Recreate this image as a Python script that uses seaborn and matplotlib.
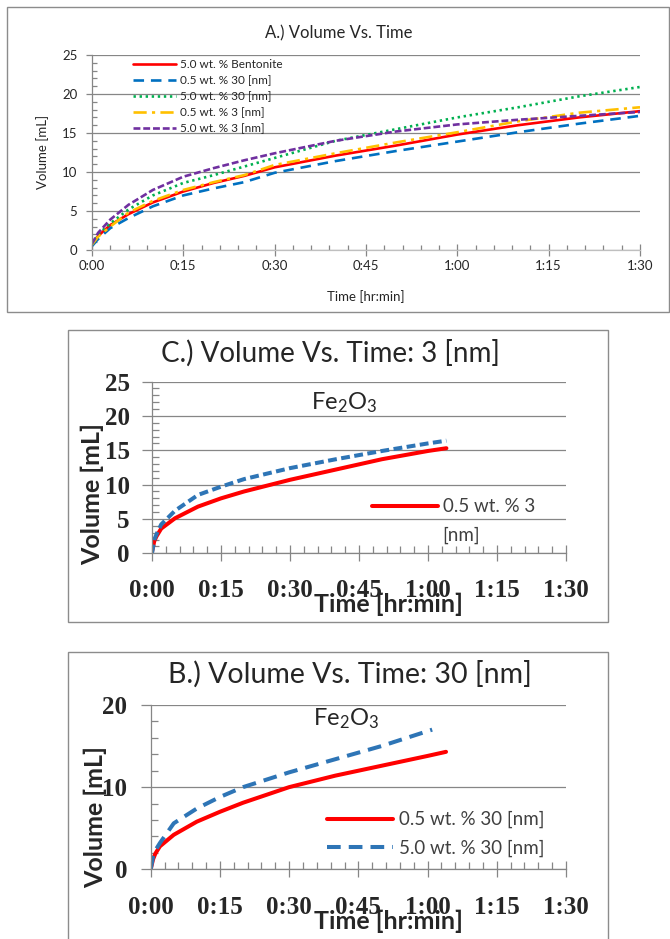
import matplotlib
matplotlib.use("Agg")
import matplotlib.pyplot as plt
import seaborn as sns
import numpy as np
from matplotlib.patches import Rectangle
from matplotlib.ticker import MultipleLocator

# ---------------- data ----------------
tick_minutes = [0, 15, 30, 45, 60, 75, 90]
tick_labels = ["0:00", "0:15", "0:30", "0:45", "1:00", "1:15", "1:30"]

# Panel A (minutes, mL)
time_a = [0, 1, 3, 6, 10, 15, 20, 25, 30, 40, 50, 60, 70, 80, 90]
a_bentonite_50 = [0.7, 1.8, 3.2, 4.6, 6.1, 7.5, 8.6, 9.5, 10.6, 12.1, 13.4, 14.8, 16.0, 17.0, 17.8]
a_30nm_05 = [0.5, 1.4, 2.8, 4.1, 5.6, 7.0, 7.9, 8.7, 9.9, 11.4, 12.7, 13.9, 15.1, 16.2, 17.2]
a_30nm_50 = [0.7, 2.0, 3.4, 5.2, 7.0, 8.6, 9.6, 10.7, 11.8, 14.0, 15.5, 17.0, 18.3, 19.7, 20.9]
a_3nm_05 = [0.7, 1.7, 3.0, 4.8, 6.3, 7.7, 8.7, 9.6, 10.9, 12.4, 13.8, 15.1, 16.5, 17.6, 18.3]
a_3nm_50 = [0.8, 2.2, 3.9, 5.8, 7.7, 9.4, 10.5, 11.5, 12.4, 14.0, 15.2, 16.1, 16.7, 17.2, 17.7]
a_labels = ["5.0 wt. % Bentonite", "0.5 wt. % 30 [nm]", "5.0 wt. % 30 [nm]",
            "0.5 wt. % 3 [nm]", "5.0 wt. % 3 [nm]"]

# Panel C (3 nm)
time_c = [0, 0.5, 1, 2, 5, 10, 15, 20, 30, 40, 50, 60, 64]
c_3nm_05 = [0.2, 1.8, 2.5, 3.6, 5.1, 6.8, 8.0, 9.0, 10.7, 12.2, 13.7, 14.9, 15.3]
c_3nm_50 = [0.0, 2.0, 2.8, 4.2, 6.2, 8.5, 9.7, 10.8, 12.4, 13.7, 14.9, 16.0, 16.4]
c_label = "0.5 wt. % 3"

# Panel B (30 nm)
time_b_05 = [0, 0.5, 1, 2, 5, 10, 15, 20, 30, 40, 50, 60, 64]
b_30nm_05 = [0.0, 1.2, 1.9, 2.8, 4.2, 5.8, 7.0, 8.1, 10.0, 11.4, 12.6, 13.8, 14.3]
time_b_50 = [0, 0.5, 1, 2, 5, 10, 15, 20, 30, 40, 50, 61]
b_30nm_50 = [0.0, 1.5, 2.3, 3.2, 5.6, 7.4, 8.8, 10.0, 11.8, 13.4, 15.0, 17.0]
b_labels = ["0.5 wt. % 30 [nm]", "5.0 wt. % 30 [nm]"]

# ---------------- style ----------------
sns.set_theme(style="white")
plt.rcParams["font.family"] = ["Lato", "DejaVu Sans"]
plt.rcParams["mathtext.default"] = "regular"

W, H = 670, 939
fig = plt.figure(figsize=(W / 100, H / 100), dpi=100)
fig.patch.set_facecolor("white")

GRID = "#868686"
TXT = "#262626"
RED = "#FF0000"


def px_axes(l, t, r, b):
    return fig.add_axes([l / W, 1 - b / H, (r - l) / W, (b - t) / H])


def border(l, t, r, b):
    fig.add_artist(Rectangle((l / W, 1 - b / H), (r - l) / W, (b - t) / H,
                             transform=fig.transFigure, fill=False,
                             ec="#8C8C8C", lw=1.0))


def ftext(x, y, s, **kw):
    fig.text(x / W, 1 - y / H, s, **kw)


def style_axes(ax, ymax, ymajor, yminor, tkw, xpad, ypad, xmaj, ymaj, mlen, bottom_col):
    ax.set_xlim(0, 90)
    ax.set_ylim(0, ymax)
    ax.set_xticks(tick_minutes, tick_labels, **tkw)
    yt = list(range(0, ymax + 1, ymajor))
    ax.set_yticks(yt, [str(v) for v in yt], **tkw)
    ax.xaxis.set_minor_locator(MultipleLocator(3))
    ax.yaxis.set_minor_locator(MultipleLocator(yminor))
    ax.grid(False)
    ax.yaxis.grid(True, which="major", color=GRID, lw=0.9)
    ax.set_axisbelow(True)
    for s in ["top", "right"]:
        ax.spines[s].set_visible(False)
    ax.spines["left"].set_color(GRID)
    ax.spines["bottom"].set_color(bottom_col)
    ax.spines["left"].set_linewidth(0.9)
    ax.spines["bottom"].set_linewidth(0.9)
    ax.tick_params(axis="both", which="both", bottom=True, left=True, top=False, right=False)
    ax.tick_params(axis="x", which="major", direction="inout", length=xmaj,
                   width=0.9, color=GRID, pad=xpad, labelcolor=TXT)
    ax.tick_params(axis="x", which="minor", direction="in", length=mlen,
                   width=0.9, color=GRID)
    ax.tick_params(axis="y", which="major", direction="out", length=ymaj,
                   width=0.9, color=GRID, pad=ypad, labelcolor=TXT)
    ax.tick_params(axis="y", which="minor", direction="in", length=mlen,
                   width=0.9, color=GRID)
    ax.set_facecolor("white")


def place_labels(ax, xl, yl, xpos, ypos, kw):
    ax.set_xlabel(xl, **kw)
    ax.set_ylabel(yl, **kw)
    ax.xaxis.set_label_coords(xpos[0] / W, 1 - xpos[1] / H, transform=fig.transFigure)
    ax.yaxis.set_label_coords(ypos[0] / W, 1 - ypos[1] / H, transform=fig.transFigure)
    ax.xaxis.label.set_va("center")
    ax.yaxis.label.set_va("center")


# ================= Panel A =================
border(7, 7, 669, 312)
axA = px_axes(92, 55, 640, 250)
a_series = [a_bentonite_50, a_30nm_05, a_30nm_50, a_3nm_05, a_3nm_50]
a_colors = ["#FF0000", "#0070C0", "#00B050", "#FFC000", "#7030A0"]
a_styles = ["-", (0, (4, 2.6)), (0, (0.9, 1.4)), (0, (5, 2, 1.2, 2)), (0, (2.6, 1.1))]
for vals, col, ls, lab in zip(a_series, a_colors, a_styles, a_labels):
    sns.lineplot(x=time_a, y=vals, ax=axA, color=col, linestyle=ls, lw=1.9, label=lab)

style_axes(axA, 25, 5, 1, dict(fontsize=9.5), xpad=3.5, ypad=6, xmaj=8, ymaj=4.5,
           mlen=3.5, bottom_col="#BFBFBF")
place_labels(axA, "Time [hr:min]", "Volume [mL]", (366, 297), (43, 152),
             dict(fontsize=9.5, color=TXT))
ftext(339, 33, "A.) Volume Vs. Time", fontsize=12, color=TXT, ha="center", va="center")
hA, lA = axA.get_legend_handles_labels()
axA.legend(hA, lA, loc="upper left", bbox_to_anchor=(133 / W, 1 - 59 / H),
           bbox_transform=fig.transFigure, frameon=False, fontsize=8.5,
           handlelength=3.6, handletextpad=0.4, labelspacing=0.42,
           borderpad=0, borderaxespad=0, labelcolor=TXT)

# ================= Panel C =================
border(68, 330, 608, 622)
axC = px_axes(152, 381.6, 566, 553.3)
sns.lineplot(x=time_c, y=c_3nm_05, ax=axC, color=RED, lw=2.9, label=c_label)
sns.lineplot(x=time_c, y=c_3nm_50, ax=axC, color="#2E75B6", lw=2.9,
             linestyle=(0, (2.2, 1.1)))
big_tick = dict(fontsize=18, fontfamily="Liberation Serif", fontweight="bold")
style_axes(axC, 25, 5, 1, big_tick, xpad=13, ypad=9, xmaj=11, ymaj=7,
           mlen=5, bottom_col=GRID)
place_labels(axC, "Time [hr:min]", "Volume [mL]", (388, 604), (92, 494),
             dict(fontsize=18, fontweight="bold", color=TXT))
ftext(330, 353, "C.) Volume Vs. Time: 3 [nm]", fontsize=20, color=TXT,
      ha="center", va="center")
ftext(311, 403, "Fe$_2$O$_3$", fontsize=17, color=TXT, ha="left", va="center")
hC, lC = axC.get_legend_handles_labels()
axC.legend(hC[:1], lC[:1], loc="center left", bbox_to_anchor=(372 / W, 1 - 507 / H),
           bbox_transform=fig.transFigure, frameon=False, fontsize=13.5,
           handlelength=3.5, handletextpad=0.3, borderpad=0, borderaxespad=0,
           labelcolor="#404040")
ftext(442, 535, "[nm]", fontsize=13.5, color="#404040", ha="left", va="center")

# ================= Panel B =================
border(68, 652, 608, 945)
axB = px_axes(150.7, 705, 566, 869.3)
sns.lineplot(x=time_b_05, y=b_30nm_05, ax=axB, color=RED, lw=2.9, label=b_labels[0])
sns.lineplot(x=time_b_50, y=b_30nm_50, ax=axB, color="#2E75B6", lw=2.9,
             linestyle=(0, (3.4, 2.0)), label=b_labels[1])
style_axes(axB, 20, 10, 2, big_tick, xpad=14, ypad=10, xmaj=11, ymaj=7,
           mlen=5, bottom_col=GRID)
place_labels(axB, "Time [hr:min]", "Volume [mL]", (388, 921), (95, 817),
             dict(fontsize=18, fontweight="bold", color=TXT))
ftext(350, 674, "B.) Volume Vs. Time: 30 [nm]", fontsize=20.5, color=TXT,
      ha="center", va="center")
ftext(313, 719, "Fe$_2$O$_3$", fontsize=17, color=TXT, ha="left", va="center")
hB, lB = axB.get_legend_handles_labels()
axB.legend(hB, lB, loc="center left", bbox_to_anchor=(327 / W, 1 - 834 / H),
           bbox_transform=fig.transFigure, frameon=False, fontsize=13.5,
           handlelength=3.5, handletextpad=0.35, labelspacing=0.6,
           borderpad=0, borderaxespad=0, labelcolor="#404040")

fig.savefig("out.png", dpi=100, facecolor="white")
